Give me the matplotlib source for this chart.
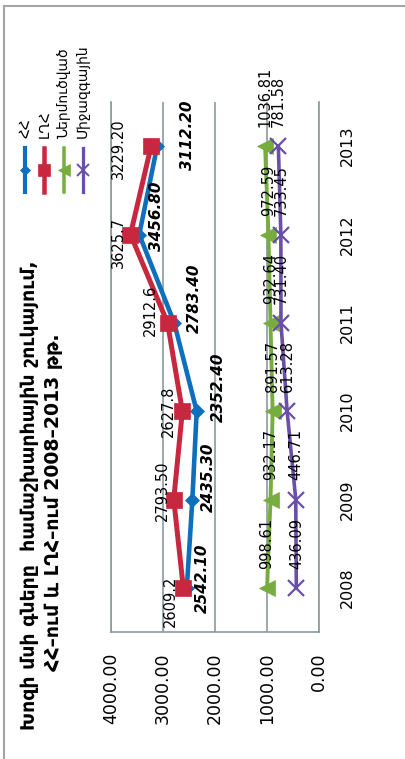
import matplotlib
matplotlib.use("Agg")
import matplotlib.pyplot as plt
from matplotlib.lines import Line2D

plt.rcParams['font.family'] = ['DejaVu Sans']

years = ['2008', '2009', '2010', '2011', '2012', '2013']
hh = [2542.10, 2435.30, 2352.40, 2783.40, 3456.80, 3112.20]
lgh = [2609.2, 2793.50, 2627.8, 2912.6, 3625.7, 3229.20]
lgh_labels = ['2609.2', '2793.50', '2627.8', '2912.6', '3625.7', '3229.20']
imported = [998.61, 932.17, 891.57, 932.64, 972.59, 1036.81]
world = [436.09, 446.71, 613.28, 731.40, 733.45, 781.58]
names = ['ՀՀ', 'ԼՂՀ', 'Ներմուծված', 'Միջազգային']
title1 = 'Խոզի մսի գները  համաշխարհային շուկայում,'
title2 = 'ՀՀ–ում և ԼՂՀ–ում 2008–2013 թթ.'

# label nudges in pixels (x, y), rotated chart so done by hand
hh_shift = [(16, 10), (16, 22), (22, 24), (20, 25), (17, 18), (30, 11)]
lgh_shift = [(-13, -13), (-11, 9), (-14, 0), (-17, 12), (-12, -8), (-33, -3)]

c_blue = '#0f6fba'
c_red = '#c8283f'
c_green = '#76ad3e'
c_purple = '#6a4fa8'
c_grid = '#8b999e'

W, H = 406, 759
fig = plt.figure(figsize=(W / 100, H / 100), dpi=100)
ax = fig.add_axes([111 / W, 1 - 632 / H, (319 - 111) / W, (632 - 102) / H])

pos = list(range(len(years)))
styles = [
    (hh, c_blue, 'D', 7, 3.3),
    (lgh, c_red, 's', 12, 3.6),
    (imported, c_green, '<', 11, 2.8),
    (world, c_purple, 'x', 11, 2.6),
]
for vals, col, mk, ms, lw in styles:
    ax.plot(vals, pos, color=col, marker=mk, markersize=ms, lw=lw,
            markeredgewidth=1.6 if mk == 'x' else 0.5, markeredgecolor=col,
            solid_joinstyle='round', zorder=3)

for i in pos:
    ax.annotate('%.2f' % hh[i], (hh[i], i), xytext=hh_shift[i], textcoords='offset pixels',
                rotation=90, ha='center', va='center', fontsize=11,
                fontweight='bold', fontstyle='italic', zorder=4)
    ax.annotate(lgh_labels[i], (lgh[i], i), xytext=lgh_shift[i], textcoords='offset pixels',
                rotation=90, ha='center', va='center', fontsize=10.5, zorder=4)
    ax.annotate('%.2f' % imported[i], (imported[i], i), xytext=(0, 19), textcoords='offset pixels',
                rotation=90, ha='center', va='bottom', fontsize=10.5, zorder=4,
                annotation_clip=False)
    ax.annotate('%.2f' % world[i], (world[i], i), xytext=(0, 19), textcoords='offset pixels',
                rotation=90, ha='center', va='bottom', fontsize=10.5, zorder=4,
                annotation_clip=False)

ax.set_xlim(4000, 0)
ax.set_ylim(-0.5, len(years) - 0.5)
ax.set_xticks([4000, 3000, 2000, 1000, 0])
ax.set_xticklabels(['%.2f' % v for v in [4000, 3000, 2000, 1000, 0]],
                   rotation=90, fontsize=12.5)
ax.set_yticks(pos)
ax.set_yticklabels(years, rotation=90, va='center', fontsize=11.5)
ax.yaxis.tick_right()
ax.tick_params(axis='x', length=0, pad=15)
ax.tick_params(axis='y', length=0, pad=15)
ax.grid(axis='x', color=c_grid, lw=1.2)
ax.set_axisbelow(True)
ax.spines['top'].set_visible(False)
for s in ['left', 'bottom', 'right']:
    ax.spines[s].set_color(c_grid)
    ax.spines[s].set_linewidth(1.2)

# titles
fig.text(30 / W, 1 - 495 / H, title1, rotation=90, ha='center', va='center',
         fontsize=13.6, fontweight='bold')
fig.text(54 / W, 1 - 502 / H, title2, rotation=90, ha='center', va='center',
         fontsize=13.6, fontweight='bold')

# legend, drawn by hand because it is rotated
leg_x = [25, 44, 64, 83]
for k, (vals, col, mk, ms, lw) in enumerate(styles):
    x = leg_x[k] / W
    fig.add_artist(Line2D([x, x], [1 - 192 / H, 1 - 148 / H], color=col, lw=lw * 0.9))
    fig.add_artist(Line2D([x], [1 - 170 / H], color=col, marker=mk, markersize=ms * 0.75,
                          markeredgewidth=1.4 if mk == 'x' else 0.5, markeredgecolor=col))
    fig.text(x, 1 - 138 / H, names[k], rotation=90, ha='center', va='bottom', fontsize=10)

# outer frame (only left and top edges are inside the picture)
fig.add_artist(Line2D([4 / W, 4 / W], [0, 1 - 6 / H], color='#a5a5a5', lw=1.5))
fig.add_artist(Line2D([4 / W, 1], [1 - 6 / H, 1 - 6 / H], color='#a5a5a5', lw=1.5))

fig.savefig('out.png', dpi=100)
